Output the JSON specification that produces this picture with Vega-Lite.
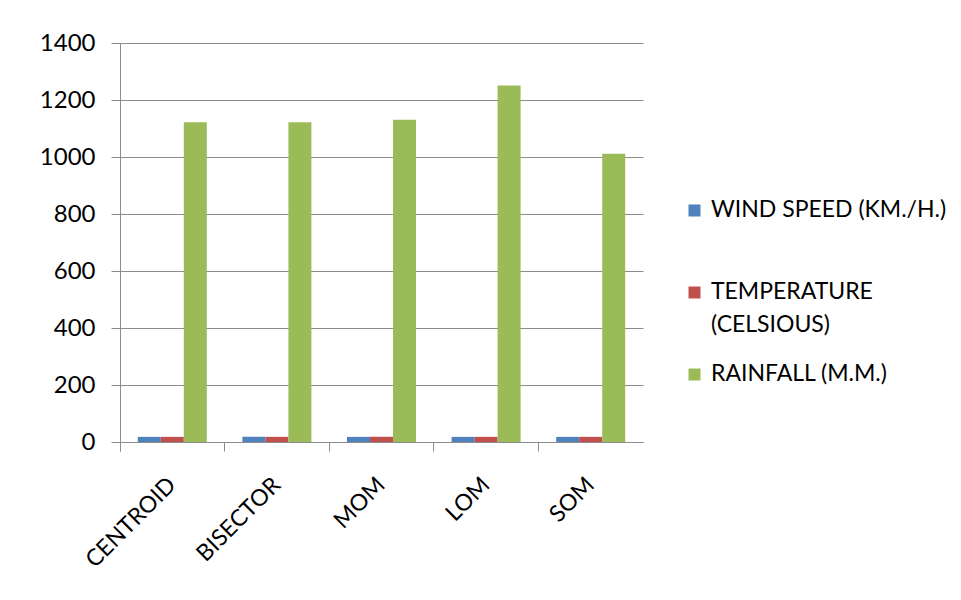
{
  "$schema": "https://vega.github.io/schema/vega-lite/v6.json",
  "width": 523,
  "height": 399,
  "autosize": {"type": "none"},
  "padding": {"left": 120, "top": 43, "right": 318, "bottom": 158},
  "background": "white",
  "config": {"view": {"stroke": null}, "font": "Lato"},
  "data": {
    "values": [
      {"method": "CENTROID", "variable": "WIND SPEED (KM./H.)", "value": 18},
      {"method": "CENTROID", "variable": "TEMPERATURE (CELSIOUS)", "value": 18},
      {"method": "CENTROID", "variable": "RAINFALL (M.M.)", "value": 1122},
      {"method": "BISECTOR", "variable": "WIND SPEED (KM./H.)", "value": 18},
      {"method": "BISECTOR", "variable": "TEMPERATURE (CELSIOUS)", "value": 18},
      {"method": "BISECTOR", "variable": "RAINFALL (M.M.)", "value": 1122},
      {"method": "MOM", "variable": "WIND SPEED (KM./H.)", "value": 18},
      {"method": "MOM", "variable": "TEMPERATURE (CELSIOUS)", "value": 18},
      {"method": "MOM", "variable": "RAINFALL (M.M.)", "value": 1131},
      {"method": "LOM", "variable": "WIND SPEED (KM./H.)", "value": 18},
      {"method": "LOM", "variable": "TEMPERATURE (CELSIOUS)", "value": 18},
      {"method": "LOM", "variable": "RAINFALL (M.M.)", "value": 1251},
      {"method": "SOM", "variable": "WIND SPEED (KM./H.)", "value": 18},
      {"method": "SOM", "variable": "TEMPERATURE (CELSIOUS)", "value": 18},
      {"method": "SOM", "variable": "RAINFALL (M.M.)", "value": 1011}
    ]
  },
  "mark": {"type": "bar"},
  "encoding": {
    "x": {
      "field": "method",
      "type": "nominal",
      "sort": ["CENTROID", "BISECTOR", "MOM", "LOM", "SOM"],
      "scale": {"paddingInner": 0, "paddingOuter": 0},
      "axis": {
        "title": null,
        "labelAngle": -45,
        "labelAlign": "right",
        "labelBaseline": "middle",
        "labelFontSize": 23,
        "labelPadding": 30,
        "labelColor": "#000000",
        "tickSize": 9,
        "bandPosition": 0,
        "tickExtra": true,
        "domainColor": "#8c8c8c",
        "tickColor": "#8c8c8c",
        "grid": false
      }
    },
    "xOffset": {
      "field": "variable",
      "sort": ["WIND SPEED (KM./H.)", "TEMPERATURE (CELSIOUS)", "RAINFALL (M.M.)"],
      "scale": {"paddingInner": 0, "paddingOuter": 0.774}
    },
    "y": {
      "field": "value",
      "type": "quantitative",
      "scale": {"domain": [0, 1400]},
      "axis": {
        "title": null,
        "values": [0, 200, 400, 600, 800, 1000, 1200, 1400],
        "format": "d",
        "tickSize": 9,
        "labelPadding": 16,
        "labelFontSize": 24,
        "labelColor": "#000000",
        "gridColor": "#8c8c8c",
        "domainColor": "#8c8c8c",
        "tickColor": "#8c8c8c"
      }
    },
    "color": {
      "field": "variable",
      "type": "nominal",
      "scale": {
        "domain": ["WIND SPEED (KM./H.)", "TEMPERATURE (CELSIOUS)", "RAINFALL (M.M.)"],
        "range": ["#4F81BD", "#C0504D", "#9BBB59"]
      },
      "legend": {
        "title": null,
        "orient": "none",
        "legendX": 563,
        "legendY": 156,
        "padding": 0,
        "symbolType": "square",
        "symbolSize": 144,
        "symbolStrokeWidth": 0,
        "symbolOpacity": 1,
        "labelFontSize": 23,
        "labelColor": "#000000",
        "labelBaseline": "top",
        "labelLimit": 300,
        "labelOffset": 5,
        "gridAlign": "all",
        "rowPadding": 25,
        "labelExpr": "datum.label == 'TEMPERATURE (CELSIOUS)' ? ['TEMPERATURE', '(CELSIOUS)'] : datum.label",
        "encode": {"labels": {"update": {"dy": {"value": -12}, "lineHeight": {"value": 33}}}}
      }
    }
  }
}
